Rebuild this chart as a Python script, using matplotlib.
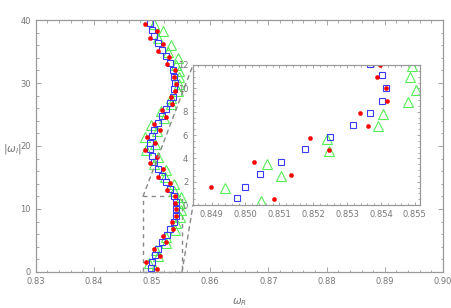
import matplotlib
matplotlib.use("Agg")
import matplotlib.pyplot as plt
from matplotlib.patches import Rectangle, ConnectionPatch
from matplotlib.ticker import MultipleLocator
import numpy as np

# red filled circles
red_y = [0.51, 1.57, 2.6, 3.66, 4.71, 5.77, 6.8, 7.89, 8.91, 10.0, 11.0, 12.0,
         13.0, 14.1, 15.1, 16.3, 17.25, 18.3, 19.4, 20.4, 21.5, 22.5, 23.5, 24.6,
         25.7, 26.7, 27.7, 28.8, 29.9, 31.0, 32.0, 33.0, 34.1, 35.1, 36.2, 37.2,
         38.3, 39.4]
red_x = [0.85085, 0.84898, 0.85134, 0.85026, 0.85246, 0.85191, 0.85361, 0.85338,
         0.85418, 0.85414, 0.85387, 0.85398, 0.85255, 0.85300, 0.85106, 0.85180,
         0.84957, 0.85083, 0.84883, 0.85054, 0.84911, 0.85129, 0.85037, 0.85238,
         0.85170, 0.85350, 0.85330, 0.85398, 0.85410, 0.85375, 0.85387, 0.85255,
         0.85295, 0.85100, 0.85180, 0.84957, 0.85083, 0.84883]

# blue open squares
blue_y = [0.57, 1.57, 2.66, 3.69, 4.77, 5.83, 6.86, 7.91, 8.91, 10.0, 11.1, 12.1,
          13.2, 14.3, 15.2, 16.3, 17.4, 18.4, 19.5, 20.5, 21.6, 22.6, 23.7, 24.8,
          25.8, 26.9, 27.8, 29.0, 30.05, 31.0, 32.1, 33.2, 34.3, 35.2, 36.3, 37.4,
          38.4, 39.5]
blue_x = [0.84976, 0.85000, 0.85044, 0.85106, 0.85177, 0.85250, 0.85316, 0.85369,
          0.85403, 0.85415, 0.85403, 0.85369, 0.85301, 0.85238, 0.85169, 0.85100,
          0.85037, 0.84997, 0.84969, 0.84969, 0.84997, 0.85037, 0.85100, 0.85169,
          0.85238, 0.85301, 0.85352, 0.85381, 0.85392, 0.85381, 0.85352, 0.85301,
          0.85238, 0.85169, 0.85100, 0.85037, 0.84997, 0.84969]

# green open triangles
green_y = [0.37, 1.43, 2.51, 3.54, 4.63, 5.63, 6.74, 7.77, 8.8, 9.86, 10.94, 11.94,
           12.9, 14.0, 15.0, 16.2, 17.1, 18.2, 19.3, 20.3, 21.4, 22.4, 23.4, 24.5,
           25.6, 26.6, 27.6, 28.7, 29.8, 30.9, 31.9, 32.9, 34.0, 35.0, 36.1, 37.1,
           38.2, 39.3]
green_x = [0.85045, 0.84940, 0.85106, 0.85064, 0.85246, 0.85240, 0.85390, 0.85406,
           0.85480, 0.85504, 0.85487, 0.85492, 0.85370, 0.85380, 0.85220, 0.85240,
           0.85030, 0.85100, 0.84900, 0.85050, 0.84880, 0.85090, 0.84990, 0.85200,
           0.85150, 0.85330, 0.85320, 0.85440, 0.85460, 0.85460, 0.85460, 0.85410,
           0.85440, 0.85280, 0.85320, 0.85100, 0.85180, 0.85030]

xticks_main = [0.83, 0.84, 0.85, 0.86, 0.87, 0.88, 0.89, 0.90]
xticks_inset = [0.849, 0.850, 0.851, 0.852, 0.853, 0.854, 0.855]

gray = "#999999"
tgray = "#777777"
red_c, blue_c, green_c = "#ff0000", "#3a3aff", "#55ee55"


def style(ax, fs):
    for s in ax.spines.values():
        s.set_color(gray)
        s.set_linewidth(0.9)
    ax.tick_params(which="both", direction="in", top=True, right=True,
                   color=gray, labelcolor=tgray, labelsize=fs, width=0.6)
    ax.tick_params(which="major", length=3.5)
    ax.tick_params(which="minor", length=1.8)


def draw(ax):
    ax.plot(green_x, green_y, ls="none", marker="^", ms=6.5, mfc="none",
            mec=green_c, mew=0.8, clip_on=True)
    ax.plot(blue_x, blue_y, ls="none", marker="s", ms=4.8, mfc="none",
            mec=blue_c, mew=0.8)
    ax.plot(red_x, red_y, ls="none", marker="o", ms=3.0, mfc=red_c,
            mec=red_c, mew=0.3)


fig = plt.figure(figsize=(4.52, 3.08), dpi=100)
ax = fig.add_axes([0.079, 0.117, 0.901, 0.818])
draw(ax)
ax.set_xlim(0.83, 0.90)
ax.set_ylim(0, 40)
ax.set_xticks(xticks_main)
ax.set_xticklabels(["%.2f" % v for v in xticks_main])
ax.xaxis.set_minor_locator(MultipleLocator(0.002))
ax.yaxis.set_major_locator(MultipleLocator(10))
ax.yaxis.set_minor_locator(MultipleLocator(2))
style(ax, 6)
ax.set_xlabel(r"$\omega_R$", fontsize=7.5, color=tgray)
ax.xaxis.set_label_coords(0.5, -0.095)
ax.set_ylabel(r"$|\omega_I|$", fontsize=7.5, color=tgray, rotation=0,
              ha="right", va="center")
ax.yaxis.set_label_coords(-0.035, 0.49)

# inset
ix0, ix1, iy0, iy1 = 0.84845, 0.85515, 0, 12
ins = fig.add_axes([0.427, 0.334, 0.502, 0.455])
ins.set_zorder(5)
draw(ins)
ins.set_xlim(ix0, ix1)
ins.set_ylim(iy0, iy1)
ins.set_xticks(xticks_inset)
ins.set_xticklabels(["%.3f" % v for v in xticks_inset])
ins.xaxis.set_minor_locator(MultipleLocator(0.0002))
ins.yaxis.set_major_locator(MultipleLocator(2))
ins.yaxis.set_minor_locator(MultipleLocator(0.5))
style(ins, 6)
ins.tick_params(which="major", length=2.5)
ins.tick_params(which="minor", length=1.3)

# zoom box and connectors
ax.add_patch(Rectangle((ix0, iy0), ix1 - ix0, iy1 - iy0, fill=False,
                       ec="#888888", ls=(0, (3, 3)), lw=1.0, zorder=1,
                       clip_on=False))
for pa, pb in [((ix0, iy1), (0, 1)), ((ix1, iy0), (0, 0))]:
    cp = ConnectionPatch(xyA=pa, coordsA=ax.transData, xyB=pb,
                         coordsB=ins.transAxes, color="#888888",
                         ls=(0, (3, 3)), lw=1.0, zorder=1)
    fig.add_artist(cp)

fig.savefig("out.png", dpi=100)
